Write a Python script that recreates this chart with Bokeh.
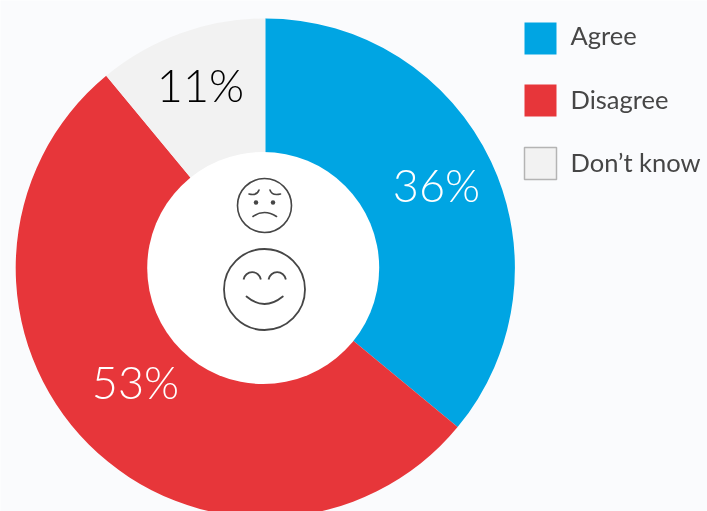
import math
from bokeh.plotting import figure
from bokeh.models import ColumnDataSource
from bokeh.core.properties import value
from bokeh.embed import file_html
from bokeh.resources import INLINE

categories = ["Agree", "Disagree", "Don’t know"]
shares = [36, 53, 11]
colors = ["#00A5E3", "#E7363A", "#F2F2F2"]
label_colors = ["#FFFFFF", "#FFFFFF", "#000000"]

W, H = 707, 511
INK = "#464646"
BG = "#FAFBFD"
FONT = "Lato Light"

p = figure(width=W, height=H, x_range=(0, W), y_range=(0, H),
           output_backend="svg", toolbar_location=None,
           background_fill_color=BG, border_fill_color=BG,
           min_border=0, outline_line_color=None)
p.styles = {"position": "fixed", "left": "0", "top": "0"}
p.axis.visible = False
p.grid.visible = False

def Y(v):
    return H - v

cx, cy, R, r = 264.8, Y(267.5), 249.6, 116

starts, ends = [], []
acc = 0
for s in shares:
    starts.append(math.pi / 2 - acc / 100 * 2 * math.pi)
    ends.append(math.pi / 2 - (acc + s) / 100 * 2 * math.pi)
    acc += s

src = ColumnDataSource(dict(start=starts, end=ends, color=colors))
p.annular_wedge(x=cx, y=cy, inner_radius=0, outer_radius=R, start_angle="start", end_angle="end",
                direction="clock", fill_color="color", line_color=None, source=src)
p.scatter(x=[262.7], y=[cy], size=2 * r, marker="circle", fill_color="#FFFFFF", line_color=None)

p.text(x=[436, 135, 200], y=[Y(184), Y(381), Y(84.5)], text=[f"{s}%" for s in shares], text_color=label_colors,
       text_font=value(FONT), text_font_size="45px", text_align="center", text_baseline="middle")

# legend
leg_y = [38, 100, 163]
p.rect(x=[540] * 3, y=[Y(v) for v in leg_y], width=32, height=32, fill_color=colors,
       line_color=[None, None, "#B4B4B4"], line_width=1.5)
p.text(x=[570] * 3, y=[Y(34.5), Y(98.5), Y(161.5)], text=categories, text_color=INK, text_font=value("Lato"),
       text_font_size="25.5px", text_align="left", text_baseline="middle")

# faces
p.scatter(x=[264, 264], y=[Y(205), Y(289)], size=[54, 81], marker="circle",
          fill_color=None, line_color=INK, line_width=[1.6, 1.8])

def curve(a, peak, b, lw):
    c = (2 * peak[0] - (a[0] + b[0]) / 2, 2 * peak[1] - (a[1] + b[1]) / 2)
    p.quadratic(x0=[a[0]], y0=[Y(a[1])], x1=[b[0]], y1=[Y(b[1])], cx=[c[0]], cy=[Y(c[1])],
                line_color=INK, line_width=lw, line_cap="round")

p.arc(x=[251.7, 276.7], y=[Y(280.5), Y(280.5)], radius=8.8,
      start_angle=math.radians(10), end_angle=math.radians(170), line_color=INK, line_width=1.8)
curve((246, 296), (264, 303.5), (282.3, 296), 1.8)
curve((248.5, 193.5), (255, 193.5), (258.5, 189.5), 1.6)
curve((269.5, 189.5), (273, 193.5), (280, 193.5), 1.6)
curve((252.5, 216), (264, 212), (276, 216), 1.6)
p.scatter(x=[255.5, 272.5], y=[Y(202), Y(202)], size=4.5, marker="circle", fill_color=INK, line_color=None)

open("out.html", "w").write(file_html(p, INLINE))
